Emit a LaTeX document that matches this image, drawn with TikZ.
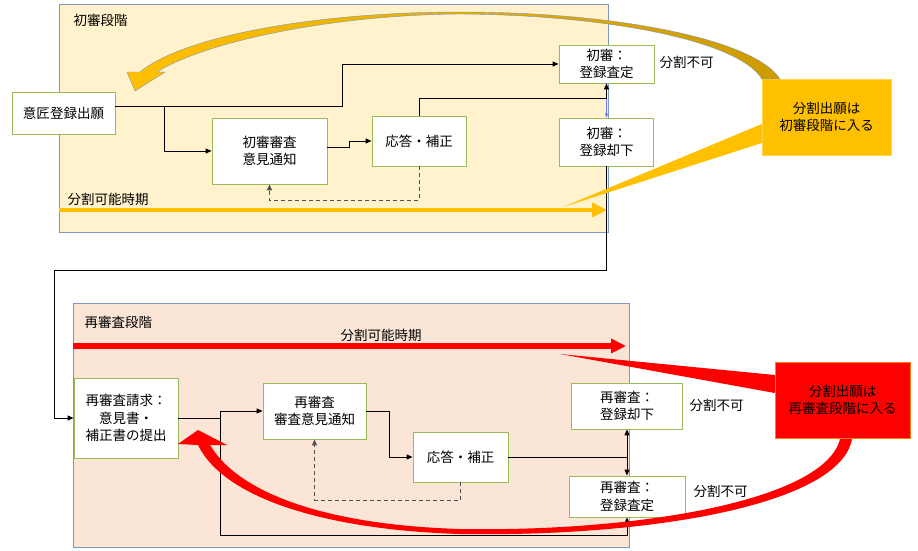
\documentclass[tikz,border=0pt]{standalone}
\usepackage{fontspec}
\setmainfont{Noto Sans CJK JP}
\usetikzlibrary{arrows.meta}
\definecolor{stageone}{RGB}{255,242,204}
\definecolor{stagetwo}{RGB}{251,229,214}
\definecolor{frameblue}{RGB}{124,152,190}
\definecolor{boxgreen}{RGB}{155,187,89}
\definecolor{gold}{RGB}{255,192,0}
\definecolor{darkgold}{RGB}{205,155,0}
\definecolor{dashgray}{RGB}{80,80,80}

\begin{document}
\begin{tikzpicture}[x=1pt,y=-1pt,
  every node/.style={font=\fontsize{13.5}{17.5}\selectfont},
  stepbox/.style={draw=boxgreen,line width=0.8pt,fill=white,align=center,inner sep=0pt},
  conn/.style={line width=1pt,-{Triangle[length=6pt,width=5pt]}},
  back/.style={dashgray,line width=1pt,dash pattern=on 4pt off 3pt,-{Triangle[length=6pt,width=5pt]}}]
  \useasboundingbox (0,0) rectangle (918,550);

  % the two stages
  \draw[frameblue,line width=0.8pt,fill=stageone] (59,4) rectangle (608,232);
  \draw[frameblue,line width=0.8pt,fill=stagetwo] (73,303) rectangle (629,547);
  \node[anchor=west] (stage1) at (70,20) {初審段階};
  \node[anchor=west] (stage2) at (81,322) {再審査段階};

  % periods in which a division is possible
  \coordinate (ys) at (59,210);
  \coordinate (ye) at (607,210);
  \coordinate (rs) at (73,346);
  \coordinate (re) at (626,346);
  \draw[gold,line width=4.5pt,-{Triangle[length=15pt,width=14pt]}] (ys) -- (ye);
  \draw[red,line width=5.5pt,-{Triangle[length=15pt,width=14pt]}] (rs) -- (re);
  \node[anchor=west] (period1) at (64,199) {分割可能時期};
  \node (period2) at (381,335) {分割可能時期};

  % first examination
  \node[stepbox,minimum width=103pt,minimum height=42pt] (apply) at (63.5,113) {意匠登録出願};
  \node[stepbox,minimum width=115pt,minimum height=66pt] (notice1) at (269.5,151) {初審審査\\意見通知};
  \node[stepbox,minimum width=94pt,minimum height=50pt] (resp1) at (419,141) {応答・補正};
  \node[stepbox,minimum width=95pt,minimum height=38pt] (grant1) at (606.5,64) {初審：\\登録査定};
  \node[stepbox,minimum width=94pt,minimum height=48pt] (reject1) at (606.5,142) {初審：\\登録却下};

  % appeal examination
  \node[stepbox,minimum width=104pt,minimum height=80pt] (request) at (126,418) {再審査請求：\\意見書・\\補正書の提出};
  \node[stepbox,minimum width=103pt,minimum height=56pt] (notice2) at (314.5,411) {再審査\\審査意見通知};
  \node[stepbox,minimum width=95pt,minimum height=50pt] (resp2) at (460.5,457) {応答・補正};
  \node[stepbox,minimum width=111pt,minimum height=46pt] (reject2) at (627,406) {再審査：\\登録却下};
  \node[stepbox,minimum width=116pt,minimum height=41pt] (grant2) at (627,496.5) {再審査：\\登録査定};

  \foreach \p/\n in {(656,62)/nodiv1,(686,405)/nodiv2,(690,491)/nodiv3}
    \node[anchor=west] (\n) at \p {分割不可};

  % flow of the first stage
  \draw[conn] ([yshift=7pt]apply.east) -- ++(227,0) |- (grant1.west);
  \draw[conn] ([yshift=7pt]apply.east) -- ++(49,0) |- (notice1.west);
  \draw[conn] ([yshift=4pt]notice1.east) -- ++(22,0) |- (resp1.west);
  \draw[back] (resp1.south) -- ++(0,34) -| (notice1.south);
  \draw[blue!55,line width=0.5pt,-{Triangle[length=4pt,width=3pt]}] (grant1.south) -- (reject1.north);
  \draw[conn] (resp1.north) -- ++(0,-17) -| (grant1.south);
  \draw[conn] (reject1.south) -- ++(0,104) -| ([xshift=-19pt]request.west) -- (request.west);

  % flow of the second stage
  \draw[conn] (request.east) -- ++(42,0) |- (notice2.west);
  \draw[conn] (request.east) -- ++(42,0) -- ++(0,117) -| (grant2.south);
  \draw[conn] (notice2.east) -- ++(23,0) |- (resp2.west);
  \draw[back] (resp2.south) -- ++(0,18) -| (notice2.south);
  \draw[line width=1pt] (resp2.east) -- (resp2.east -| grant2.north);
  \draw[line width=1pt,{Triangle[length=6pt,width=5pt]}-{Triangle[length=6pt,width=5pt]}] (reject2.south) -- (grant2.north);

  % callouts
  \node[draw=gold!70!white,fill=gold,minimum width=129pt,minimum height=76pt,align=center,inner sep=0pt] (ycall) at (826.5,117) {分割出願は\\初審段階に入る};
  \node[draw=orange,fill=red,minimum width=135pt,minimum height=76pt,align=center,inner sep=0pt] (rcall) at (842.5,400) {分割出願は\\再審査段階に入る};
  \coordinate (ytip) at (563,207);
  \coordinate (rtip) at (560,354);
  \fill[gold] ([yshift=-7pt]ycall.west) -- (ytip) -- ([yshift=-26pt]ycall.west) -- cycle;
  \fill[red] ([yshift=25pt]rcall.west) -- (rtip) -- ([yshift=7pt]rcall.west) -- cycle;

  % curved arrows back to the start of each stage
  \path[draw=frameblue,line width=0.4pt,left color=gold,right color=darkgold]
    (780,79) .. controls (755,40) and (620,12) .. (460,12)
    .. controls (320,12) and (185,35) .. (140,72) -- (127,72) -- (135,91) -- (165,72) -- (157,72)
    .. controls (205,42) and (330,15) .. (460,14)
    .. controls (605,15) and (738,40) .. (762,79) -- cycle;
  \fill[red]
    (852,439) .. controls (840,505) and (650,537) .. (460,534)
    .. controls (330,530) and (225,500) .. (198,445) -- (178,444) -- (198,430) -- (227,445) -- (210,445)
    .. controls (240,495) and (330,525) .. (460,529)
    .. controls (640,532) and (825,500) .. (840,439) -- cycle;
\end{tikzpicture}
\end{document}
